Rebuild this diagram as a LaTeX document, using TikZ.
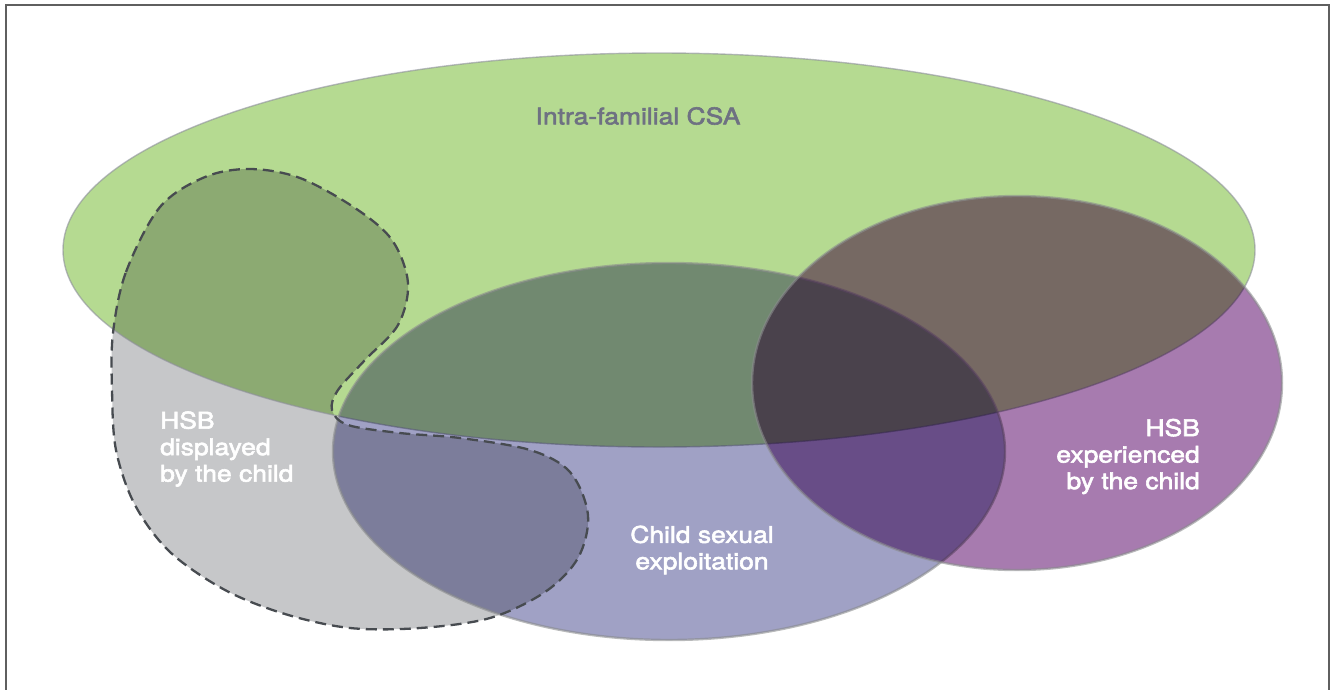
\documentclass[tikz,border=0pt]{standalone}
\usepackage{fontspec}
\newfontfamily\vennfont{TeX Gyre Heros}[FakeStretch=1.15, FakeBold=2.5]
\usepackage{xcolor}
\usetikzlibrary{shapes.geometric}
\definecolor{intragreen}{HTML}{B5DA91}
\definecolor{csebluegrey}{HTML}{A0A1C5}
\definecolor{hsbpurple}{HTML}{A77BAF}
\definecolor{hsbgrey}{HTML}{C6C7C9}
\definecolor{setline}{HTML}{8E8F9C}
\definecolor{setlinelight}{HTML}{8A8C8D}
\definecolor{dashgrey}{HTML}{474B50}
\definecolor{titlegrey}{HTML}{6E7182}
\definecolor{framegrey}{HTML}{5F5F5F}
\newcommand\hsbblob{(113,333) (126,272) (160,207) (205,177) (250,169) (300,178)
    (355,208) (392,240) (408,283) (398,325) (365,360) (338,390) (332,410)
    (348,425) (400,433) (460,438) (530,450) (570,472) (588,515) (578,558)
    (545,592) (490,618) (420,628) (350,628) (285,614) (225,590) (170,552)
    (135,505) (116,450) (112,390)}
\tikzset{
    venn set/.style={
        ellipse,
        inner sep=0pt,
        line width=2.4pt,
        draw opacity=0.6,
        preaction={fill=#1, blend mode=multiply}
    },
    venn intra/.style={venn set=intragreen, draw=setline, line width=1.4pt},
    venn cse/.style={venn set=csebluegrey, draw=setlinelight},
    venn hsbexp/.style={venn set=hsbpurple, draw=setlinelight},
    venn blob/.style={fill=hsbgrey, blend mode=multiply},
    venn dashed/.style={draw=dashgrey, line width=2.3pt, dash pattern=on 11pt off 6pt},
    venn text/.style={font=\vennfont\fontsize{23}{26.5}\selectfont, inner sep=0pt},
    venn label/.style={venn text, text=white},
    frame line/.style={draw=framegrey, line width=2pt}
}
\begin{document}
\begin{tikzpicture}[x=1pt, y=-1pt]
    \useasboundingbox (0,0) rectangle (1330,689);
    \draw[frame line] (6,690) -- (6,5) -- (1329,5) -- (1329,690);

    % HSB displayed by the child sits under the three sets
    \fill[venn blob] plot[smooth cycle, tension=0.55] coordinates {\hsbblob};

    \node[venn intra, minimum width=1192pt, minimum height=394pt] (intra) at (659,250) {};
    \node[venn cse, minimum width=672pt, minimum height=377pt] (cse) at (669,451.5) {};
    \node[venn hsbexp, minimum width=530pt, minimum height=374pt] (hsbexp) at (1017,383) {};

    \draw[venn dashed] plot[smooth cycle, tension=0.55] coordinates {\hsbblob};

    \node[venn text, text=titlegrey] (intra label) at (638,116) {Intra-familial CSA};
    \node[venn label, align=left, anchor=west] (displayed label) at (160,449) {HSB\\displayed\\by the child};
    \node[venn label, align=center] (cse label) at (702,550) {Child sexual\\exploitation};
    \node[venn label, align=right, anchor=east] (hsbexp label) at (1200,456.5) {HSB\\experienced\\by the child};
\end{tikzpicture}
\end{document}
